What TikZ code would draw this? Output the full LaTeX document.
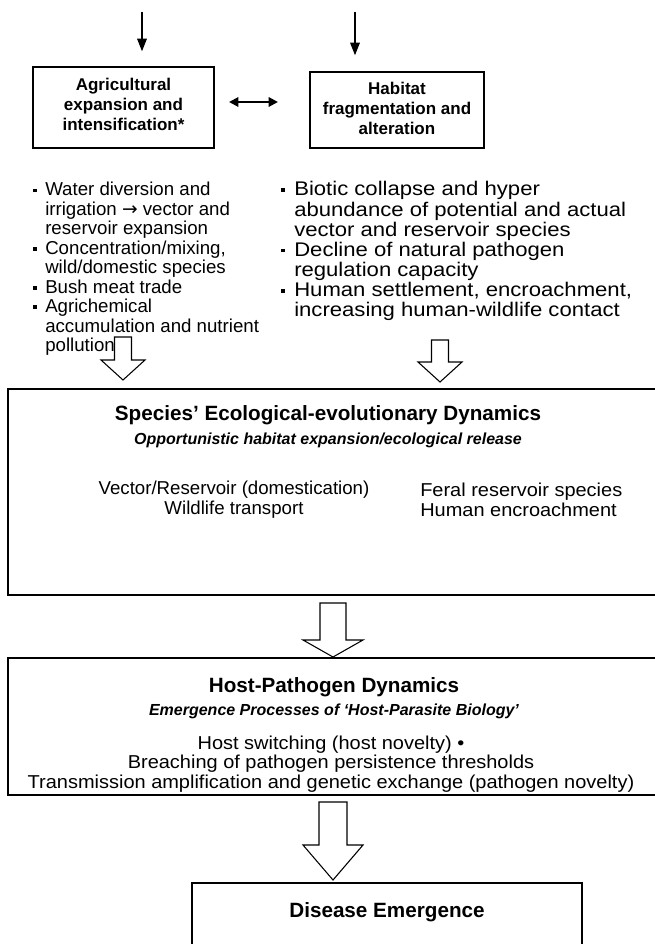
\documentclass[tikz,border=0pt]{standalone}
\usepackage{fontspec}
\setmainfont{Liberation Sans}
\newfontfamily\widefont[FakeStretch=1.12]{Liberation Sans}
\newfontfamily\midfont[FakeStretch=1.07]{Liberation Sans}
\newfontfamily\djv{DejaVu Sans}
\usetikzlibrary{arrows.meta}
\newcommand\sqb{\raisebox{0.2em}{\rule{2.8pt}{2.8pt}}}
\newcommand\hollowarrow[6]{% cx, top, base, tip, half shaft, half head
  \draw[hollow] ({#1-#5},#2) -- ({#1-#5},#3) -- ({#1-#6},#3) -- (#1,#4) -- ({#1+#6},#3) -- ({#1+#5},#3) -- ({#1+#5},#2) -- cycle;}
\begin{document}
\begin{tikzpicture}[x=0.75pt,y=-0.75pt,
  box/.style={draw, line width=0.9pt, inner sep=0pt},
  boxtxt/.style={font=\bfseries\fontsize{12.75}{15}\selectfont, align=center, inner sep=0pt},
  body/.style={font=\fontsize{14}{14.6}\selectfont, inner sep=0pt},
  ttl/.style={font=\bfseries\fontsize{15.5}{18}\selectfont, inner sep=0pt},
  sub/.style={font=\bfseries\itshape\fontsize{12}{14}\selectfont, inner sep=0pt},
  hollow/.style={draw, line width=0.8pt, fill=white},
  arr/.style={-{Triangle[length=9.5pt,width=7pt]}, line width=1.5pt},
  darr/.style={{Triangle[length=7pt,width=7pt]}-{Triangle[length=7pt,width=7pt]}, line width=1.5pt}]
\useasboundingbox (0,0) rectangle (654,944);
\fill[white] (0,0) rectangle (654,944);

% top boxes
\node[box, minimum width=135.75pt, minimum height=60.75pt] (lbox) at (123.5,107.5) {};
\node[boxtxt] (ltxt) at (123.5,104.5) {Agricultural\\expansion and\\intensification*};
\node[box, minimum width=130.5pt, minimum height=57pt] (rbox) at (397,110) {};
\node[boxtxt] (rtxt) at (397,108.5) {Habitat\\fragmentation and\\alteration};

% input arrows
\coordinate (inL) at (142,12);
\coordinate (inR) at (355,12);
\draw[arr, shorten >=11.25pt] (inL) -- (inL |- lbox.north);
\draw[arr, shorten >=12pt] (inR) -- (inR |- rbox.north);

% double arrow
\coordinate (dL) at (229,102);
\coordinate (dR) at (278,102);
\draw[darr] (dL) -- (dR);

% bullet lists
\node[body, anchor=base west] (llist) at (33,196) {\begin{tabular}[t]{@{}p{9pt}@{}l@{}}
\sqb & Water diversion and\\
     & irrigation {\djv →} vector and\\
     & reservoir expansion\\
\sqb & Concentration/mixing,\\
     & wild/domestic species\\
\sqb & Bush meat trade\\
\sqb & Agrichemical\\
     & accumulation and nutrient\\
     & pollution
\end{tabular}};
\node[body, anchor=base west, font=\widefont\fontsize{14.8}{14.6}\selectfont] (rlist) at (281,196) {\begin{tabular}[t]{@{}p{9.75pt}@{}l@{}}
\sqb & Biotic collapse and hyper\\
     & abundance of potential and actual\\
     & vector and reservoir species\\
\sqb & Decline of natural pathogen\\
     & regulation capacity\\
\sqb & Human settlement, encroachment,\\
     & increasing human-wildlife contact
\end{tabular}};

% box 3
\node[box, minimum width=489pt, minimum height=154.5pt] (b3) at (334,492) {};
\node[ttl] (t3) at (328,415) {Species’ Ecological-evolutionary Dynamics};
\node[sub] (s3) at (328,440) {Opportunistic habitat expansion/ecological release};
\node[body, align=center, font=\fontsize{14}{15}\selectfont] (i3a) at (234,500)
  {Vector/Reservoir (domestication)\\Wildlife transport};
\node[body, align=left, anchor=west, font=\midfont\fontsize{14}{15}\selectfont] (i3b) at (420,500)
  {Feral reservoir species\\Human encroachment};

% box 4
\node[box, minimum width=489pt, minimum height=102.75pt] (b4) at (334,726.5) {};
\node[ttl] (t4) at (334,687) {Host-Pathogen Dynamics};
\node[sub] (s4) at (334,711) {Emergence Processes of ‘Host-Parasite Biology’};
\node[body, align=center, font=\midfont\fontsize{14}{14.6}\selectfont] (i4) at (331,764)
  {Host switching (host novelty) •\\Breaching of pathogen persistence thresholds\\Transmission amplification and genetic exchange (pathogen novelty)};

% box 5
\node[box, minimum width=292.5pt, minimum height=60pt] (b5) at (387,923) {};
\node[ttl] (t5) at (387,912) {Disease Emergence};

% hollow arrows
\hollowarrow{123}{337}{360}{380}{8.5}{22}
\hollowarrow{440}{340}{362}{382}{8.5}{22}
\hollowarrow{333}{603}{640}{657}{13}{30}
\hollowarrow{333}{802}{845}{880}{14}{30}
\end{tikzpicture}
\end{document}
